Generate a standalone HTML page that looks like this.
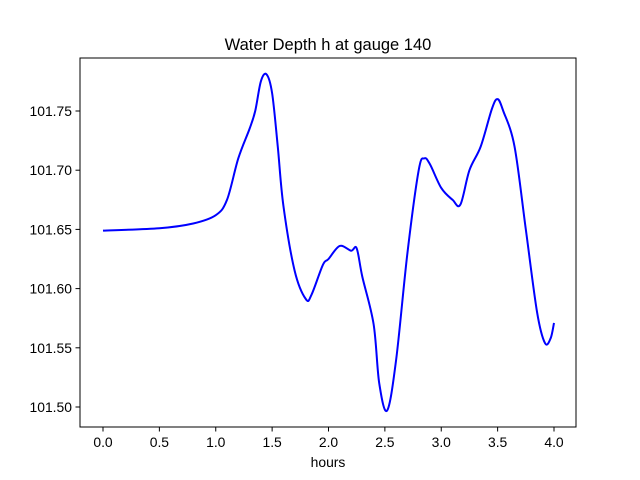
<!DOCTYPE html>
<html><head><meta charset="utf-8"><style>
body{margin:0;background:#fff;}
svg{display:block;font-family:"Liberation Sans","DejaVu Sans",sans-serif;}
</style></head><body>
<svg id="chart" width="640" height="480">
<rect x="0" y="0" width="640" height="480" fill="#fff"/>
<text x="328" y="50" text-anchor="middle" font-size="16.5" fill="#000">Water Depth h at gauge 140</text>
<g id="xticks"></g><g id="yticks"></g>
<path id="line" fill="none" stroke="#0000ff" stroke-width="2"/>
<rect x="80" y="58" width="496" height="369" fill="none" stroke="#000" stroke-width="1"/>
<text x="328" y="467" text-anchor="middle" font-size="13.9" fill="#000">hours</text>
</svg>
<script>
const xTickVals=[0,0.5,1,1.5,2,2.5,3,3.5,4];
const xTickLabels=["0.0","0.5","1.0","1.5","2.0","2.5","3.0","3.5","4.0"];
const yTickVals=[101.50,101.55,101.60,101.65,101.70,101.75];
const yTickLabels=["101.50","101.55","101.60","101.65","101.70","101.75"];
const times=[0,0.5,0.8,1.0,1.1,1.2,1.3,1.35,1.4,1.45,1.5,1.55,1.6,1.7,1.8,1.85,1.95,2.0,2.1,2.2,2.25,2.3,2.4,2.45,2.52,2.6,2.7,2.8,2.85,2.9,3.0,3.1,3.17,3.25,3.35,3.45,3.5,3.55,3.65,3.75,3.85,3.92,3.97,4.0];
const depths=[101.649,101.651,101.655,101.662,101.675,101.71,101.735,101.75,101.775,101.781,101.765,101.72,101.67,101.615,101.591,101.595,101.62,101.625,101.636,101.632,101.634,101.61,101.57,101.52,101.497,101.54,101.63,101.70,101.71,101.705,101.685,101.675,101.671,101.70,101.72,101.752,101.76,101.75,101.72,101.65,101.58,101.554,101.558,101.571];
const NS="http://www.w3.org/2000/svg";
function xs(v){return 103+v*112.75;}
function ys(v){return 407-(v-101.5)*1184;}
const xg=document.getElementById('xticks'),yg=document.getElementById('yticks');
xTickVals.forEach((v,i)=>{
  const l=document.createElementNS(NS,'line');
  l.setAttribute('x1',xs(v));l.setAttribute('x2',xs(v));l.setAttribute('y1',427);l.setAttribute('y2',431.5);l.setAttribute('stroke','#000');
  
  
  xg.appendChild(l);
  const t=document.createElementNS(NS,'text');
  t.setAttribute('x',xs(v));t.setAttribute('y',447);t.setAttribute('text-anchor','middle');t.setAttribute('font-size','13.9');
  t.textContent=xTickLabels[i];
  
  
  xg.appendChild(t);
});
yTickVals.forEach((v,i)=>{
  const l=document.createElementNS(NS,'line');
  l.setAttribute('x1',75.5);l.setAttribute('x2',80);l.setAttribute('y1',ys(v));l.setAttribute('y2',ys(v));l.setAttribute('stroke','#000');
  
  
  yg.appendChild(l);
  const t=document.createElementNS(NS,'text');
  t.setAttribute('x',72);t.setAttribute('y',ys(v)+5);t.setAttribute('text-anchor','end');t.setAttribute('font-size','13.9');
  t.textContent=yTickLabels[i];
  
  
  yg.appendChild(t);
});
// Catmull-Rom smooth path
const P=times.map((t,i)=>[xs(t),ys(depths[i])]);
let d='M'+P[0][0]+','+P[0][1];
for(let i=0;i<P.length-1;i++){
  const p0=P[Math.max(0,i-1)],p1=P[i],p2=P[i+1],p3=P[Math.min(P.length-1,i+2)];
  const c1=[p1[0]+(p2[0]-p0[0])/6,p1[1]+(p2[1]-p0[1])/6];
  const c2=[p2[0]-(p3[0]-p1[0])/6,p2[1]-(p3[1]-p1[1])/6];
  d+=' C'+c1[0]+','+c1[1]+' '+c2[0]+','+c2[1]+' '+p2[0]+','+p2[1];
}
document.getElementById('line').setAttribute('d',d);
</script>
</body></html>
